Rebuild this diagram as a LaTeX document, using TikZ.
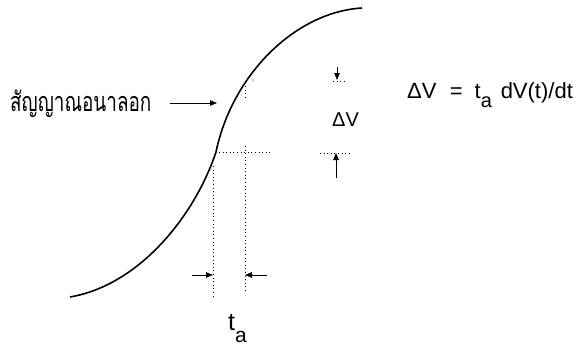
\documentclass[tikz,border=0pt]{standalone}
\usepackage{fontspec}
\setmainfont{Liberation Sans}
\newfontfamily\thaifont[Script=Thai]{Loma}
\usetikzlibrary{arrows.meta}
\begin{document}
\begin{tikzpicture}[x=1pt,y=-1pt,
  curve/.style={line width=1.6pt},
  dots/.style={line width=1pt, dash pattern=on 1pt off 2.6pt},
  arr/.style={line width=0.8pt, -{Triangle[length=7pt,width=5.5pt]}},
  lbl/.style={inner sep=0pt, font=\fontsize{20}{22}\selectfont}]
\useasboundingbox (0,0) rectangle (583,346);
% curve
\coordinate (c0) at (70,297);
\coordinate (cm) at (216,152);
\coordinate (c1) at (362,8);
\draw[curve] (c0) .. controls (140,285) and (195,215) .. (cm)
  .. controls (232,75) and (295,12) .. (c1);
% dotted construction lines
\coordinate (h0) at (219,152);
\coordinate (h1) at (273,152);
\draw[dots] (h0) -- (h1);
\coordinate (va0) at (213,166);
\coordinate (va1) at (213,298);
\draw[dots] (va0) -- (va1);
\coordinate (vb0) at (245,146);
\coordinate (vb1) at (245,293);
\draw[dots] (vb0) -- (vb1);
\coordinate (u0) at (245,86);
\coordinate (u1) at (245,99);
\draw[dots] (u0) -- (u1);
\coordinate (u2) at (253,80);
\fill (u2) circle (0.6pt);
\coordinate (r0) at (333,81);
\coordinate (r1) at (346,81);
\draw[dots] (r0) -- (r1);
\coordinate (s0) at (320,153);
\coordinate (s1) at (351,153);
\draw[dots] (s0) -- (s1);
% delta V arrows
\coordinate (da0) at (337,67);
\coordinate (da1) at (337,80);
\draw[arr] (da0) -- (da1);
\coordinate (ua0) at (336,178);
\coordinate (ua1) at (336,153);
\draw[arr] (ua0) -- (ua1);
% t_a arrows
\coordinate (la0) at (192,275);
\coordinate (la1) at (213,275);
\draw[arr] (la0) -- (la1);
\coordinate (ra0) at (267,275);
\coordinate (ra1) at (245,275);
\draw[arr] (ra0) -- (ra1);
% labels
\node[inner sep=0pt, anchor=base west, font=\thaifont\fontsize{27}{29}\selectfont] (thai) at (10,111) {\scalebox{0.7}[1]{สัญญาณอนาลอก}};
\coordinate (tip) at (217,103);
\coordinate (ts) at (170,103);
\draw[arr] (ts) -- (tip);
\node[lbl, anchor=base west] (dv) at (332,126) {ΔV};
\node[inner sep=0pt, anchor=base west, font=\fontsize{22}{24}\selectfont] (eq) at (407,98) {ΔV\hspace{0.6em}=\hspace{0.55em}t\raisebox{-9pt}{\fontsize{20}{20}\selectfont a}\hspace{0.4em}dV(t)/dt};
\node[inner sep=0pt, anchor=base west, font=\fontsize{25}{27}\selectfont] (ta) at (228,330) {t\raisebox{-12pt}{\fontsize{21}{21}\selectfont a}};
\end{tikzpicture}
\end{document}
